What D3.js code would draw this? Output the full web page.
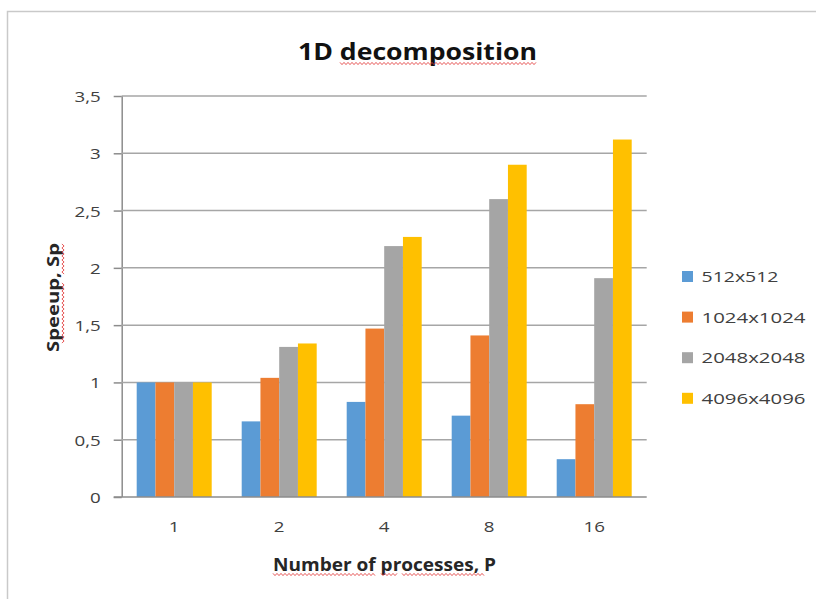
<!DOCTYPE html>
<html>
<head>
<meta charset="utf-8">
<script src="https://cdn.jsdelivr.net/npm/d3@7"></script>
<style>
  html, body { margin: 0; padding: 0; background: #fff; }
  svg { display: block; }
  text { font-family: "Open Sans", "Noto Sans", sans-serif; }
</style>
</head>
<body>
<svg id="chart" width="816" height="599"></svg>
<script>
// Speedup of the 1D decomposition, per problem size and process count
const processes = ["1", "2", "4", "8", "16"];
const sizes = ["512x512", "1024x1024", "2048x2048", "4096x4096"];
const speedup512 = [1.00, 0.66, 0.83, 0.71, 0.33];
const speedup1024 = [1.00, 1.04, 1.47, 1.41, 0.81];
const speedup2048 = [1.00, 1.31, 2.19, 2.60, 1.91];
const speedup4096 = [1.00, 1.34, 2.27, 2.90, 3.12];
const yTicks = [0, 0.5, 1, 1.5, 2, 2.5, 3, 3.5];
const seriesColors = ["#5B9BD5", "#ED7D31", "#A5A5A5", "#FFC000"];

const series = [speedup512, speedup1024, speedup2048, speedup4096];
const rows = processes.map((p, i) => ({ p, values: series.map((s, k) => ({ key: sizes[k], v: s[i] })) }));

const svg = d3.select("#chart");
const plot = { left: 121.7, right: 646.7, top: 96, bottom: 497 };
const textScaleX = 1.25;

// outer chart frame (top and left edges)
svg.append("path")
  .attr("d", "M7.5,599 V11.5 H816")
  .attr("fill", "none").attr("stroke", "#c9c9c9").attr("stroke-width", 1.5);

const x0 = d3.scaleBand().domain(processes).range([plot.left, plot.right])
  .paddingInner(30 / 105).paddingOuter(15 / 105);
const x1 = d3.scaleBand().domain(sizes).range([0, x0.bandwidth()]);
const y = d3.scaleLinear().domain([0, 3.5]).range([plot.bottom, plot.top]);
const color = d3.scaleOrdinal().domain(sizes).range(seriesColors);
const fmt = v => String(v).replace(".", ",");

// y axis with gridlines
const yAxis = svg.append("g")
  .attr("transform", `translate(${plot.left},0)`)
  .call(d3.axisLeft(y).tickValues(yTicks).tickFormat(fmt).tickSize(8).tickPadding(0));
yAxis.select(".domain").attr("stroke", "#8c8c8c").attr("stroke-width", 1.5)
  .attr("d", `M0.5,${plot.top}V${plot.bottom}`);
yAxis.selectAll(".tick line").attr("stroke", "#8c8c8c").attr("stroke-width", 1.5);
yAxis.selectAll(".tick text")
  .attr("x", 0).attr("dy", null).attr("dominant-baseline", null)
  .attr("transform", `translate(-21,5.5) scale(${textScaleX},1)`)
  .attr("font-size", 15).attr("fill", "#404040").attr("font-family", "Open Sans");

svg.append("g").selectAll("line").data(yTicks.filter(t => t > 0)).join("line")
  .attr("x1", plot.left).attr("x2", plot.right)
  .attr("y1", d => y(d)).attr("y2", d => y(d))
  .attr("stroke", "#a6a6a6").attr("stroke-width", 1.5);

// bars
const groups = svg.append("g").selectAll("g").data(rows).join("g")
  .attr("transform", d => `translate(${x0(d.p)},0)`);
groups.selectAll("rect").data(d => d.values).join("rect")
  .attr("x", d => x1(d.key))
  .attr("width", x1.bandwidth())
  .attr("y", d => y(d.v))
  .attr("height", d => y(0) - y(d.v))
  .attr("fill", d => color(d.key));

// x axis
const xAxis = svg.append("g")
  .attr("transform", `translate(0,${plot.bottom})`)
  .call(d3.axisBottom(x0).tickSize(0).tickPadding(0));
xAxis.select(".domain").attr("stroke", "#8c8c8c").attr("stroke-width", 1.5)
  .attr("d", `M${plot.left - 8},0H${plot.right}`);
xAxis.selectAll(".tick text")
  .attr("y", 0).attr("dy", null)
  .attr("transform", `translate(0,35) scale(${textScaleX},1)`)
  .attr("font-size", 15).attr("fill", "#404040").attr("font-family", "Open Sans");

// title
svg.append("text")
  .attr("x", 298).attr("y", 59.5)
  .attr("font-size", 24).attr("font-weight", "bold").attr("fill", "#111")
  .attr("textLength", 239).attr("lengthAdjust", "spacingAndGlyphs")
  .text("1D decomposition");

// axis titles
svg.append("text")
  .attr("x", 273).attr("y", 571)
  .attr("font-size", 17).attr("font-weight", "bold").attr("fill", "#262626")
  .attr("textLength", 223).attr("lengthAdjust", "spacingAndGlyphs")
  .text("Number of processes, P");

svg.append("text")
  .attr("transform", "translate(58.5,352) rotate(-90)")
  .attr("font-size", 16).attr("font-weight", "bold").attr("fill", "#262626")
  .attr("textLength", 109).attr("lengthAdjust", "spacingAndGlyphs")
  .text("Speeup, Sp");

// spell-check style wavy underlines
function wavy(x0w, x1w, yw, vertical) {
  const pts = [];
  for (let t = x0w, k = 0; t <= x1w; t += 2, k++) {
    const off = (k % 2 ? 1 : -1) * 1.1;
    pts.push(vertical ? [yw + off, t] : [t, yw + off]);
  }
  return d3.line()(pts);
}
const wavyStroke = { stroke: "#e23b3b", "stroke-width": 1, fill: "none", opacity: 0.85 };
[
  wavy(340, 537, 63.5, false),
  wavy(273, 376, 574.5, false),
  wavy(381, 397, 574.5, false),
  wavy(402, 484, 574.5, false),
  wavy(283, 344, 63, true),
  wavy(244, 275, 63, true)
].forEach(d => {
  const p = svg.append("path").attr("d", d);
  Object.entries(wavyStroke).forEach(([k, v]) => p.attr(k, v));
});

// legend
const legend = svg.append("g").selectAll("g").data(sizes).join("g")
  .attr("transform", (d, i) => `translate(682,${276.5 + i * 40.6})`);
legend.append("rect")
  .attr("x", 0).attr("y", -5.5).attr("width", 11).attr("height", 11)
  .attr("fill", d => color(d));
legend.append("text")
  .attr("x", 19.5).attr("y", 5.5)
  .attr("font-size", 15).attr("fill", "#404040")
  .attr("textLength", d => d === "512x512" ? 77 : 104)
  .attr("lengthAdjust", "spacingAndGlyphs")
  .text(d => d);
</script>
</body>
</html>
